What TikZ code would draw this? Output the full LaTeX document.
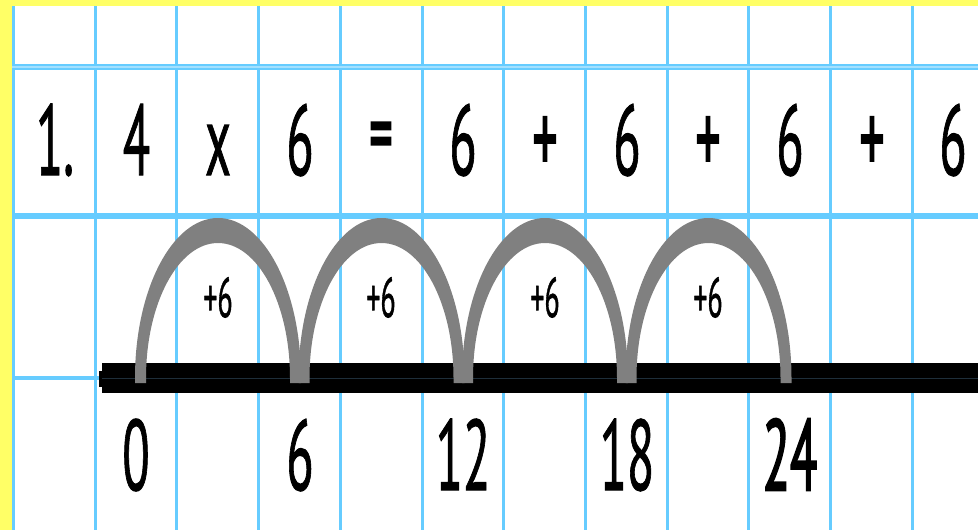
\documentclass[tikz,border=0pt]{standalone}
\usepackage{fontspec}
\setmainfont{PT Sans}
\newfontfamily\hand[FakeBold=1.2]{PT Sans}
\newfontfamily\handbold[FakeBold=2.5]{PT Sans}
\usepackage{graphicx}
\definecolor{gridblue}{HTML}{66CCFF}
\definecolor{paperyellow}{HTML}{FFFF66}
\definecolor{arcgray}{HTML}{808080}
\definecolor{barline}{HTML}{1E2E3A}
\newcommand{\cond}[1]{\scalebox{0.5}[1]{#1}}
\begin{document}
\begin{tikzpicture}[x=1pt,y=1pt,
  vline/.style={gridblue,line width=3},
  hline/.style={gridblue,line width=6},
  bigtxt/.style={font=\hand\fontsize{100}{100}\selectfont, inner sep=0, anchor=base},
  opstxt/.style={font=\handbold\fontsize{100}{100}\selectfont, inner sep=0, anchor=center},
  jumptxt/.style={font=\hand\fontsize{56}{56}\selectfont, inner sep=0, anchor=base},
  jump/.style={fill=arcgray}]
\useasboundingbox (0,0) rectangle (978,-530);
\fill[white] (0,0) rectangle (978,-530);
% yellow paper edge
\fill[paperyellow] (0,0) rectangle (978,-6);
\fill[paperyellow] (0,0) rectangle (12,-530);
% grid
\foreach \i in {0,...,11}
  \draw[vline] ({13.5+81.7*\i},-6) -- ({13.5+81.7*\i},-530);
\draw[hline] (12,-67) -- (978,-67);
\draw[hline] (12,-216) -- (978,-216);
\draw[line width=1.5,opacity=0.4,white] (12,-67) -- (978,-67);
\draw[gridblue,line width=4] (12,-378) -- (102,-378);
% number line
\fill[black] (102,-363) rectangle (978,-393);
\fill[black] (99,-371) rectangle (103,-387);
\draw[barline,line width=0.8] (102,-378) -- (978,-378);
% tick coordinates
\foreach \i in {0,...,4}
  \coordinate (t\i) at ({136+163.5*\i},-378);
% jumps
\foreach \i in {0,...,3}{
  \pgfmathsetmacro{\cx}{218+163.5*\i}
  \fill[jump] ({\cx-83},-383) -- ({\cx-83},-378)
     arc[start angle=180,end angle=0,x radius=83,y radius=160]
     -- ({\cx+83},-383) -- ({\cx+72},-383) -- ({\cx+72},-378)
     arc[start angle=0,end angle=180,x radius=72,y radius=135]
     -- ({\cx-72},-383) -- cycle;
}
% equation row
\node[bigtxt] (n1) at (55,-175) {\cond{1.}};
\node[bigtxt] (a) at (136.5,-175) {\cond{4}};
\node[bigtxt] (x) at (218,-175) {\cond{x}};
\node[bigtxt] (b) at (300,-175) {\cond{6}};
\node[opstxt,font=\handbold\fontsize{92}{92}\selectfont] (eq) at (381,-143.5) {\cond{=}};
\node[bigtxt] (s1) at (463,-175) {\cond{6}};
\node[opstxt] (p1) at (545,-145) {\cond{+}};
\node[bigtxt] (s2) at (627,-175) {\cond{6}};
\node[opstxt] (p2) at (708,-145) {\cond{+}};
\node[bigtxt] (s3) at (790,-175) {\cond{6}};
\node[opstxt] (p3) at (872,-145) {\cond{+}};
\node[bigtxt] (s4) at (953,-175) {\cond{6}};
% jump labels
\node[jumptxt] (j1) at (218,-317) {\cond{+6}};
\node[jumptxt] (j2) at (381,-317) {\cond{+6}};
\node[jumptxt] (j3) at (545,-317) {\cond{+6}};
\node[jumptxt] (j4) at (708,-317) {\cond{+6}};
% number line labels
\node[bigtxt] (l0) at (136,-490) {\cond{0}};
\node[bigtxt] (l1) at (300,-490) {\cond{6}};
\node[bigtxt] (l2) at (463,-490) {\cond{12}};
\node[bigtxt] (l3) at (627,-490) {\cond{18}};
\node[bigtxt,font=\handbold\fontsize{100}{100}\selectfont] (l4) at (790,-490) {\cond{24}};
\end{tikzpicture}
\end{document}
